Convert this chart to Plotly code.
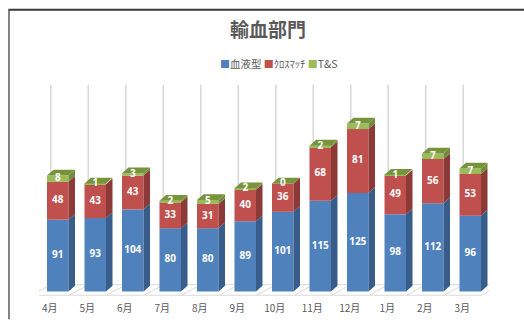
import plotly.graph_objects as go

# ---------------- data ----------------
months = ["4月", "5月", "6月", "7月", "8月", "9月", "10月", "11月", "12月", "1月", "2月", "3月"]
blood_type = [91, 93, 104, 80, 80, 89, 101, 115, 125, 98, 112, 96]
crossmatch = [48, 43, 43, 33, 31, 40, 36, 68, 81, 49, 56, 53]
t_and_s = [8, 1, 3, 2, 5, 2, 0, 2, 7, 1, 7, 7]
series_names = ["血液型", "ｸﾛｽﾏｯﾁ", "T&S"]
title_text = "輸血部門"

# ---------------- styling / geometry ----------------
front_colors = ["#4F81BD", "#C0504D", "#9BBB59"]
side_colors = ["#385D8A", "#8C3A38", "#718C3A"]
top_color = "#77933C"
grey_text = "#595959"
floor_color = "#D9D9D9"

W, H = 524, 327
ML, MR, MT, MB = 39, 35, 80, 17
PW = W - ML - MR
PH = H - MT - MB
n = len(months)
cat_px = PW / n
S = 0.82            # pixels per value unit
zero_px = 300       # pixel row of the value 0
ymin = -(H - MB - zero_px) / S
ymax = ymin + PH / S


def ux(px):
    return px / cat_px


def uy(px):
    return px / S


bar_w = ux(21.5)
dx, dy = ux(6.5), uy(6)

series = [blood_type, crossmatch, t_and_s]

fig = go.Figure()

# ---------- decor layer (floor + back wall lines) on x/y ----------
f_shift, b_shift = ux(-7.25), ux(11.75)
y_front, y_back, y_wall_top = uy(-4), uy(7), uy(zero_px - 85)
fx, fy = [], []
for k in range(n + 1):
    b = k - 0.5
    fx += [b + f_shift, b + b_shift, None]
    fy += [y_front, y_back, None]
fx += [-0.5 + f_shift, n - 0.5 + f_shift, None, -0.5 + b_shift, n - 0.5 + b_shift, None]
fy += [y_front, y_front, None, y_back, y_back, None]
fig.add_trace(go.Scatter(x=fx, y=fy, mode="lines", line=dict(color=floor_color, width=1),
                         hoverinfo="skip", showlegend=False, xaxis="x", yaxis="y"))
wx, wy = [], []
for k in range(n + 1):
    b = k - 0.5 + b_shift
    wx += [b, b, None]
    wy += [y_back, y_wall_top, None]
fig.add_trace(go.Scatter(x=wx, y=wy, mode="lines", line=dict(color="#D9D9D9", width=1.6),
                         hoverinfo="skip", showlegend=False, xaxis="x", yaxis="y"))

# ---------- bars (front faces) on x2/y2 ----------
xs = list(range(n))
bases = [0] * n
seg_bases = []
for s_i, vals in enumerate(series):
    seg_bases.append(list(bases))
    fig.add_trace(go.Bar(x=xs, y=vals, base=list(bases), width=bar_w, name=series_names[s_i],
                         marker=dict(color=front_colors[s_i], line=dict(width=0)),
                         hoverinfo="skip", showlegend=False, xaxis="x2", yaxis="y2"))
    bases = [b + v for b, v in zip(bases, vals)]
totals = bases

# ---------- side faces ----------
for s_i, vals in enumerate(series):
    px_, py_ = [], []
    for i in range(n):
        b0 = seg_bases[s_i][i]
        t0 = b0 + vals[i]
        xr = i + bar_w / 2
        px_ += [xr, xr + dx, xr + dx, xr, xr, None]
        py_ += [b0, b0 + dy, t0 + dy, t0, b0, None]
    fig.add_trace(go.Scatter(x=px_, y=py_, mode="lines", fill="toself", fillcolor=side_colors[s_i],
                             line=dict(width=0, color=side_colors[s_i]), hoverinfo="skip",
                             showlegend=False, xaxis="x2", yaxis="y2"))

# ---------- top faces ----------
tx, ty = [], []
for i in range(n):
    xl, xr = i - bar_w / 2, i + bar_w / 2
    t0 = totals[i]
    tx += [xl, xl + dx, xr + dx, xr, xl, None]
    ty += [t0, t0 + dy, t0 + dy, t0, t0, None]
fig.add_trace(go.Scatter(x=tx, y=ty, mode="lines", fill="toself", fillcolor=top_color,
                         line=dict(width=0, color=top_color), hoverinfo="skip",
                         showlegend=False, xaxis="x2", yaxis="y2"))

# ---------- data labels ----------
for s_i, vals in enumerate(series):
    ly = [seg_bases[s_i][i] + vals[i] / 2 for i in range(n)]
    fig.add_trace(go.Scatter(x=xs, y=ly, mode="text", text=[str(v) for v in vals],
                             textfont=dict(color="white", size=10, family="Open Sans", weight="bold"),
                             hoverinfo="skip", showlegend=False, xaxis="x2", yaxis="y2"))

# ---------- legend (compact, as in the original) ----------
def esc(s):
    return s.replace("&", "&amp;")


legend_parts = []
for c, nm in zip(front_colors, series_names):
    legend_parts.append(f'<span style="color:{c};font-size:10px">■</span>{esc(nm)}')
legend_text = " ".join(legend_parts)


def paper_y(px):
    return (H - MB - px) / PH


def paper_x(px):
    return (px - ML) / PW


fig.add_annotation(text=legend_text, xref="paper", yref="paper", x=paper_x(278), y=paper_y(63),
                   xanchor="center", yanchor="middle", showarrow=False,
                   font=dict(size=10.5, color=grey_text, family="Noto Sans CJK JP"))

# ---------- chart border (top & left) ----------
fig.add_shape(type="line", xref="paper", yref="paper", x0=paper_x(8.5), x1=paper_x(W + 2),
              y0=paper_y(7), y1=paper_y(7), line=dict(color="#3A3A3A", width=2))
fig.add_shape(type="line", xref="paper", yref="paper", x0=paper_x(9), x1=paper_x(9),
              y0=paper_y(6), y1=paper_y(H + 2), line=dict(color="#5A5A5A", width=1.5))

axis_common = dict(range=[-0.5, n - 0.5], fixedrange=True)
fig.update_layout(
    width=W, height=H,
    margin=dict(l=ML, r=MR, t=MT, b=MB, pad=0),
    paper_bgcolor="white", plot_bgcolor="rgba(0,0,0,0)",
    barmode="overlay",
    title=dict(text=f"<b>{title_text}</b>", x=268 / W, xanchor="center",
               y=1 - 30 / H, yanchor="middle", yref="container",
               font=dict(size=19, color=grey_text, family="Noto Sans CJK JP")),
    xaxis=dict(visible=False, **axis_common),
    yaxis=dict(visible=False, range=[ymin, ymax], fixedrange=True),
    xaxis2=dict(overlaying="x", anchor="y2", tickmode="array", tickvals=xs, ticktext=months,
                showgrid=False, zeroline=False, showline=False, ticks="",
                ticklabelshift=-8, ticklabelstandoff=0,
                tickfont=dict(size=10, color=grey_text, family="Noto Sans CJK JP"), **axis_common),
    yaxis2=dict(overlaying="y", anchor="x2", visible=False, range=[ymin, ymax], fixedrange=True),
    showlegend=False,
)

fig.write_html("out.html")
